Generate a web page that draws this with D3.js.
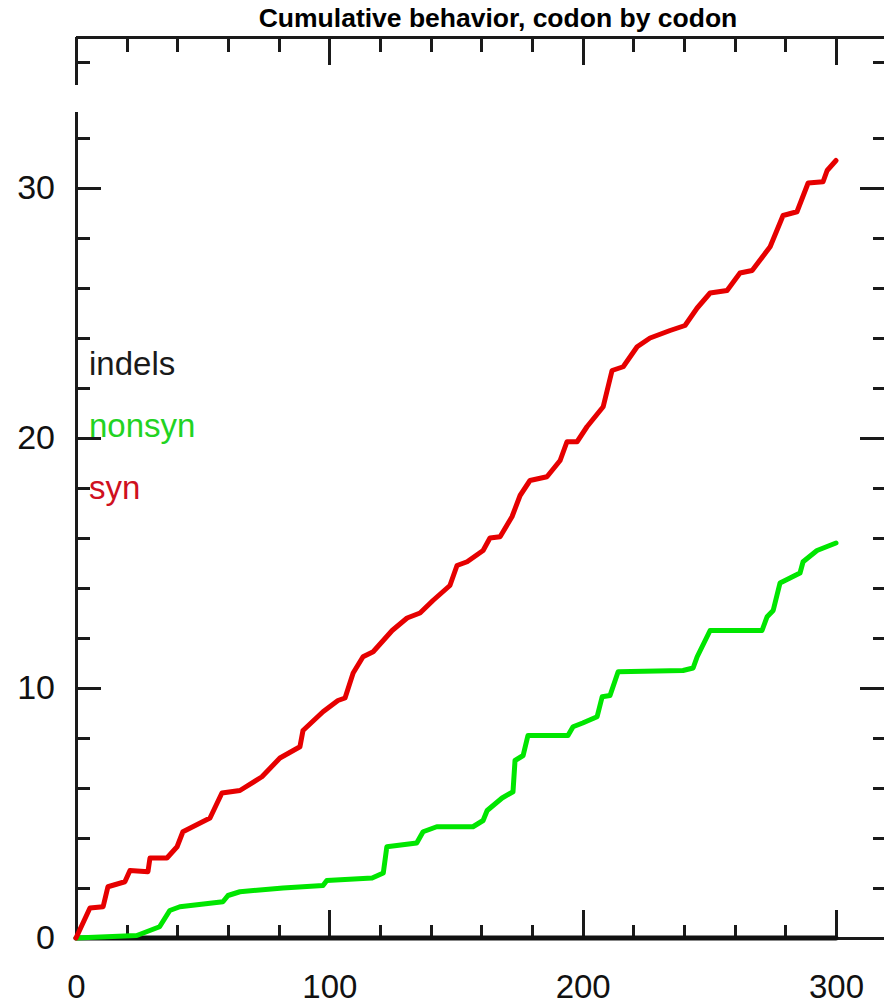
<!DOCTYPE html>
<meta charset="utf-8">
<style>
body { margin: 0; background: #fff; }
.frame path, .frame line {
  fill: none;
  stroke: #1a1a1a;
  stroke-width: 3;
  shape-rendering: crispEdges;
}
.frame text {
  font-family: "Liberation Sans", Arial, sans-serif;
  fill: #111;
}
.line { fill: none; stroke-width: 5px; stroke-linejoin: round; stroke-linecap: round; }
</style>
<body>
<script src="https://cdn.jsdelivr.net/npm/d3@7"></script>
<script>
//------------------------ DATA ------------------------//
const title = "Cumulative behavior, codon by codon";

// syn (red)
var synCodon = [0, 5.5, 10.7, 12.6, 19.3, 21.3, 28.4, 29.2, 35.9, 39.9, 42.2, 52.9, 57.6, 64.7, 73.4, 80.5,
  88.4, 89.6, 97.5, 103.4, 106.2, 109.4, 113.3, 117.3, 124.8, 130.7, 135.8, 140.9, 147.6, 150.4, 154.4,
  160.7, 163.4, 167.4, 172.1, 175.3, 179.2, 185.9, 191.1, 193.8, 197.8, 201.7, 208.1, 211.6, 216, 221.5,
  226.6, 234.5, 240.4, 245.2, 250.3, 257, 262.1, 266.9, 274, 279.1, 284.6, 289, 294.9, 296.5, 300];
var synValue = [0, 1.2, 1.25, 2.05, 2.25, 2.7, 2.65, 3.2, 3.2, 3.65, 4.25, 4.8, 5.8, 5.9, 6.45, 7.2,
  7.65, 8.3, 9.05, 9.5, 9.6, 10.6, 11.25, 11.45, 12.3, 12.8, 13.0, 13.5, 14.1, 14.9, 15.05,
  15.5, 16.0, 16.05, 16.85, 17.7, 18.3, 18.45, 19.1, 19.85, 19.85, 20.45, 21.25, 22.7, 22.85, 23.65,
  24.0, 24.3, 24.5, 25.2, 25.8, 25.9, 26.6, 26.7, 27.65, 28.9, 29.05, 30.2, 30.25, 30.7, 31.1];

// nonsyn (green)
var nonsynCodon = [0, 24, 33, 37, 41, 58, 60, 64.7, 81.7, 97.5, 99, 116.9, 121.3, 122.7, 134.5, 137,
  142.4, 156.7, 160.7, 162.3, 168.2, 172.5, 173.3, 176.5, 178.4, 194.2, 196.2, 200, 205.7, 207.7,
  210.8, 214, 239.6, 243.6, 245.2, 250.3, 270.8, 272.8, 275.2, 277.9, 285.8, 287, 292.5, 300];
var nonsynValue = [0, 0.1, 0.45, 1.1, 1.25, 1.45, 1.7, 1.85, 2.0, 2.1, 2.3, 2.4, 2.6, 3.65, 3.8, 4.25,
  4.45, 4.45, 4.7, 5.1, 5.6, 5.85, 7.1, 7.3, 8.1, 8.1, 8.45, 8.6, 8.85, 9.65,
  9.7, 10.65, 10.7, 10.8, 11.25, 12.3, 12.3, 12.85, 13.1, 14.2, 14.6, 15.05, 15.5, 15.8];

// indels (black) stay at zero
var indelCodon = [0, 300];
var indelValue = [0, 0];

var legendNames = ["indels", "nonsyn", "syn"];
var legendColors = ["#1a1a1a", "#22d322", "#cf1020"];

var xTicksMajor = [0, 100, 200, 300];
var yTicksMajor = [0, 10, 20, 30];

//------------------------ SVG ------------------------//
var W = 884, H = 1005;
var plotLeft = 76, plotRight = 836, plotBottom = 938, plotTop = 111;

var svg = d3.select("body").append("svg")
    .attr("width", W)
    .attr("height", H);

// scales
var x = d3.scaleLinear().domain([0, 300]).range([plotLeft, plotRight]);
var y = d3.scaleLinear().domain([0, 33.08]).range([plotBottom, plotTop]);
// the pasted top strip of the frame
var yTop = d3.scaleLinear().domain([34, 36]).range([87, 37]);

var minorX = d3.range(0, 301, 20).filter(function(d) { return d % 100 != 0; });
var minorY = d3.range(0, 33, 2).filter(function(d) { return d % 10 != 0; });

//------------------------ AXES ------------------------//
// bottom
svg.append("g").attr("class", "frame")
    .attr("transform", "translate(0," + plotBottom + ")")
    .call(d3.axisBottom(x).tickValues(minorX).tickSizeInner(-13).tickSizeOuter(0).tickFormat(""))
    .select(".domain").attr("d", "M" + plotLeft + ",0H" + W);
svg.append("g").attr("class", "frame")
    .attr("transform", "translate(0," + plotBottom + ")")
    .call(d3.axisBottom(x).tickValues(xTicksMajor).tickSizeInner(-28).tickSizeOuter(0).tickPadding(37))
    .call(function(g) { g.select(".domain").remove(); })
    .selectAll("text").attr("font-size", 33);

// left
svg.append("g").attr("class", "frame")
    .attr("transform", "translate(" + plotLeft + ",0)")
    .call(d3.axisLeft(y).tickValues(minorY).tickSizeInner(-14).tickSizeOuter(0).tickFormat(""));
svg.append("g").attr("class", "frame")
    .attr("transform", "translate(" + plotLeft + ",0)")
    .call(d3.axisLeft(y).tickValues(yTicksMajor).tickSizeInner(-25).tickSizeOuter(0).tickPadding(21))
    .call(function(g) { g.select(".domain").remove(); })
    .selectAll("text").attr("font-size", 34);

// right (line sits just off the page)
svg.append("g").attr("class", "frame")
    .attr("transform", "translate(887,0)")
    .call(d3.axisRight(y).tickValues(minorY).tickSizeInner(-14).tickSizeOuter(0).tickFormat(""));
svg.append("g").attr("class", "frame")
    .attr("transform", "translate(887,0)")
    .call(d3.axisRight(y).tickValues(yTicksMajor.slice(1)).tickSizeInner(-27).tickSizeOuter(0).tickFormat(""));

// top strip
svg.append("g").attr("class", "frame")
    .attr("transform", "translate(0,37)")
    .call(d3.axisTop(x).tickValues(minorX).tickSizeInner(-15).tickSizeOuter(0).tickFormat(""))
    .select(".domain").attr("d", "M" + plotLeft + ",0H" + W);
svg.append("g").attr("class", "frame")
    .attr("transform", "translate(0,37)")
    .call(d3.axisTop(x).tickValues(xTicksMajor.slice(1)).tickSizeInner(-28).tickSizeOuter(0).tickFormat(""))
    .call(function(g) { g.select(".domain").remove(); });
svg.append("g").attr("class", "frame")
    .attr("transform", "translate(" + plotLeft + ",0)")
    .call(d3.axisLeft(yTop).tickValues([35]).tickSizeInner(-14).tickSizeOuter(0).tickFormat(""))
    .select(".domain").attr("d", "M0,37V85");
svg.append("g").attr("class", "frame")
    .attr("transform", "translate(887,0)")
    .call(d3.axisRight(yTop).tickValues([35]).tickSizeInner(-14).tickSizeOuter(0).tickFormat(""));

//------------------------ LINES ------------------------//
var valueline = d3.line()
    .x(function(d) { return x(d[0]); })
    .y(function(d) { return y(d[1]); });

function pairs(a, b) { return a.map(function(v, i) { return [v, b[i]]; }); }

svg.append("path")
    .datum(pairs(indelCodon, indelValue))
    .attr("class", "line")
    .attr("stroke", "#111")
    .attr("stroke-linecap", "butt")
    .attr("d", valueline);

svg.append("path")
    .datum(pairs(nonsynCodon, nonsynValue))
    .attr("class", "line")
    .attr("stroke", "#00e600")
    .attr("d", valueline);

svg.append("path")
    .datum(pairs(synCodon, synValue))
    .attr("class", "line")
    .attr("stroke", "#e60000")
    .attr("d", valueline);

//------------------------ LEGEND ------------------------//
svg.selectAll(".legend")
    .data(legendNames)
  .enter().append("text")
    .attr("class", "legend")
    .attr("x", 89)
    .attr("y", function(d, i) { return 375 + i * 62; })
    .style("font", "33px 'Liberation Sans', Arial, sans-serif")
    .attr("fill", function(d, i) { return legendColors[i]; })
    .text(function(d) { return d; });

// title
svg.append("text")
    .attr("x", 498)
    .attr("y", 27)
    .attr("text-anchor", "middle")
    .style("font", "bold 26.5px 'Liberation Sans', Arial, sans-serif")
    .text(title);
</script>
</body>
